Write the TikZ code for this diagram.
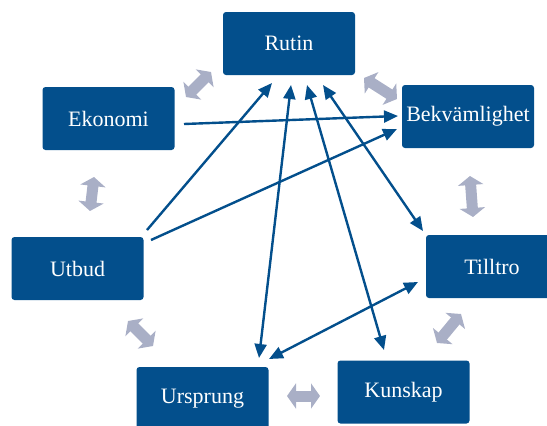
\documentclass[tikz,border=0pt]{standalone}
\usepackage{fontspec}
\setmainfont{Liberation Serif}
\usetikzlibrary{arrows.meta}
\definecolor{boxblue}{RGB}{3,79,140}
\definecolor{softgray}{RGB}{169,175,198}
\tikzset{
  box/.style={draw=none, fill=boxblue, rounded corners=3pt, minimum width=132pt, minimum height=63pt,
    text=white, font=\fontsize{22}{24}\selectfont, inner sep=0pt},
  fat/.style={draw=softgray, line width=11pt, {Triangle[length=9pt,width=25pt]}-{Triangle[length=9pt,width=25pt]}},
  link/.style={draw=boxblue, line width=2.4pt, -{Triangle[length=14pt,width=12pt]}},
  blink/.style={draw=boxblue, line width=2.4pt, {Triangle[length=14pt,width=12pt]}-{Triangle[length=14pt,width=12pt]}}
}
\begin{document}
\begin{tikzpicture}[x=1pt,y=-1pt]
\useasboundingbox (0,0) rectangle (547,426);
% nodes
\node[box] (rutin) at (289,43.5) {Rutin};
\node[box] (ekonomi) at (108.5,118.5) {Ekonomi};
\node[box] (bekv) at (468,116.5) {Bekvämlighet};
\node[box] (utbud) at (77.5,268.5) {Utbud};
\node[box] (tilltro) at (492,266.5) {Tilltro};
\node[box] (ursprung) at (202.5,398.5) {Ursprung};
\node[box] (kunskap) at (403.5,392) {Kunskap};
% gray fat arrows endpoints
\coordinate (g1a) at (186,97);  \coordinate (g1b) at (211,72);
\coordinate (g2a) at (364,78);  \coordinate (g2b) at (397,99);
\coordinate (g3a) at (470,176); \coordinate (g3b) at (473,217);
\coordinate (g4a) at (94,177);  \coordinate (g4b) at (90,211);
\coordinate (g5a) at (128,321); \coordinate (g5b) at (153,346);
\coordinate (g6a) at (287,396); \coordinate (g6b) at (320,396);
\coordinate (g7a) at (437,343); \coordinate (g7b) at (461,314);
\foreach \i in {1,...,7} {\draw[fat] (g\i a) -- (g\i b);}
% blue arrows endpoints
\coordinate (ek1) at (184,124);  \coordinate (bk1) at (398,116);
\coordinate (ut1) at (151,240);  \coordinate (bk2) at (397,129);
\coordinate (ut2) at (147,230);  \coordinate (ru1) at (272,83);
\coordinate (ur1) at (259,358);  \coordinate (ru2) at (291,85);
\coordinate (ku1) at (384,350);  \coordinate (ru3) at (307,85);
\coordinate (ti1) at (423,231);  \coordinate (ru4) at (323,85);
\coordinate (ti2) at (418,282);  \coordinate (ur2) at (269,359);
\draw[link] (ek1) -- (bk1);
\draw[link] (ut1) -- (bk2);
\draw[link] (ut2) -- (ru1);
\draw[blink] (ur1) -- (ru2);
\draw[blink] (ku1) -- (ru3);
\draw[blink] (ti1) -- (ru4);
\draw[blink] (ti2) -- (ur2);
\end{tikzpicture}
\end{document}
